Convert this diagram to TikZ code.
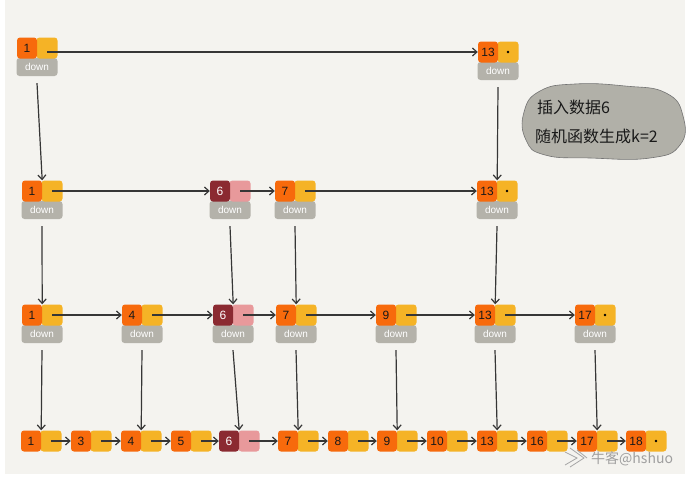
\documentclass[tikz,border=0pt]{standalone}
\usepackage{fontspec}
\setmainfont{Liberation Sans}
\newfontfamily\cjk{Noto Sans CJK SC}
\usetikzlibrary{arrows.meta}
\definecolor{korange}{HTML}{F76A0C}
\definecolor{kyellow}{HTML}{F5B326}
\definecolor{kgray}{HTML}{B4B2AA}
\definecolor{kdark}{HTML}{8B2A31}
\definecolor{kpink}{HTML}{E8999B}
\definecolor{kbg}{HTML}{F4F3EF}
\definecolor{kbubble}{HTML}{B1B0A8}
\definecolor{karrow}{HTML}{363636}
\newcommand\skn[6]{%
  \node[ptrbox,#6] (p#1) at ({#2+30},#3) {};
  \node[keybox,#5] (k#1) at ({#2+10},#3) {#4};}
\newcommand\skd[3]{%
  \node[downbox] (d#1) at ({#2+20},{#3+19}) {down};}
\begin{document}
\begin{tikzpicture}[x=1pt,y=-1pt,
  keybox/.style={fill=korange, rounded corners=3pt, minimum width=20pt, minimum height=21pt, inner sep=0pt, font=\fontsize{12}{12}\selectfont, text=black!90},
  ptrbox/.style={fill=kyellow, rounded corners=3pt, minimum width=21pt, minimum height=21pt, inner sep=0pt},
  darkkey/.style={fill=kdark, text=white},
  pinkptr/.style={fill=kpink},
  downbox/.style={fill=kgray, rounded corners=3pt, minimum width=41pt, minimum height=18pt, inner sep=0pt, text=white, font=\fontsize{10}{10}\selectfont},
  arr/.style={draw=karrow, line width=1.2pt, -{Straight Barb[length=4.5pt,width=8pt]}},
  tail/.style={fill=black}]
\useasboundingbox (0,0) rectangle (695,477);
\fill[white] (0,0) rectangle (695,477);
\fill[kbg] (5,0) rectangle (685,474);

% ---- level a
\skd{a1}{17}{48}
\skd{a13}{478}{52}
\skn{a1}{17}{48}{1}{}{}
\skn{a13}{478}{52}{13}{}{}
% ---- level b
\skd{b1}{22}{191}
\skd{b6}{210}{191}
\skd{b7}{275}{191}
\skd{b13}{477}{191}
\skn{b1}{22}{191}{1}{}{}
\skn{b6}{210}{191}{6}{darkkey}{pinkptr}
\skn{b7}{275}{191}{7}{}{}
\skn{b13}{477}{191}{13}{}{}
% ---- level c
\skd{c1}{22}{315}
\skd{c4}{122}{315}
\skd{c6}{213}{315}
\skd{c7}{276}{315}
\skd{c9}{376}{315}
\skd{c13}{475}{315}
\skd{c17}{575}{315}
\skn{c1}{22}{315}{1}{}{}
\skn{c4}{122}{315}{4}{}{}
\skn{c6}{213}{315}{6}{darkkey}{pinkptr}
\skn{c7}{276}{315}{7}{}{}
\skn{c9}{376}{315}{9}{}{}
\skn{c13}{475}{315}{13}{}{}
\skn{c17}{575}{315}{17}{}{}
% ---- level d
\skn{d1}{21}{441}{1}{}{}
\skn{d3}{71}{441}{3}{}{}
\skn{d4}{121}{441}{4}{}{}
\skn{d5}{171}{441}{5}{}{}
\skn{d6}{219}{441}{6}{darkkey}{pinkptr}
\skn{d7}{278}{441}{7}{}{}
\skn{d8}{328}{441}{8}{}{}
\skn{d9}{377}{441}{9}{}{}
\skn{d10}{427}{441}{10}{}{}
\skn{d13}{477}{441}{13}{}{}
\skn{d16}{527}{441}{16}{}{}
\skn{d17}{577}{441}{17}{}{}
\skn{d18}{626}{441}{18}{}{}

% tail dots
\foreach \t in {a13,b13,c17,d18} \fill (p\t.center) circle (1.4pt);

% horizontal arrows
\draw[arr] (pa1.center |- ka13.west) -- (ka13.west);
\draw[arr] (pb1.center) -- (kb6.west);
\draw[arr] (pb6.center) -- (kb7.west);
\draw[arr] (pb7.center) -- (kb13.west);
\foreach \a/\b in {c1/c4,c4/c6,c6/c7,c7/c9,c9/c13,c13/c17,
  d1/d3,d3/d4,d4/d5,d5/d6,d6/d7,d7/d8,d8/d9,d9/d10,d10/d13,d13/d16,d16/d17,d17/d18}
  \draw[arr] (p\a.center) -- (k\b.west);

% vertical arrows
\foreach \a/\b in {a1/b1,a13/b13,b1/c1,b6/c6,b7/c7,b13/c13,
  c1/d1,c4/d4,c6/d6,c7/d7,c9/d9,c13/d13,c17/d17}
  \draw[arr] ([yshift=-7pt]d\a.south) -- (k\b.north east);

% bubble
\draw[fill=kbubble, draw=black!55, line width=0.6pt]
  plot[smooth cycle, tension=0.8] coordinates {(524,112) (540,91) (575,84) (625,86) (666,93) (683,116) (680,145) (650,158) (590,158) (545,155) (526,140)};
\node[anchor=west, font=\cjk\fontsize{16}{16}\selectfont, text=black!90, inner sep=0] (t1) at (537,107) {插入数据6};
\node[anchor=west, font=\cjk\fontsize{16}{16}\selectfont, text=black!90, inner sep=0] (t2) at (535,136) {随机函数生成k=2};

% watermark
\draw[gray!70, line width=0.8pt] (565,452) -- (577,458) -- (565,465) (570,448) -- (584,458) -- (570,467) (577,450) -- (587,458);
\node[anchor=west, font=\cjk\fontsize{14}{14}\selectfont, text=gray!75, inner sep=0] (wm) at (591,459) {牛客@hshuo};
\end{tikzpicture}
\end{document}
